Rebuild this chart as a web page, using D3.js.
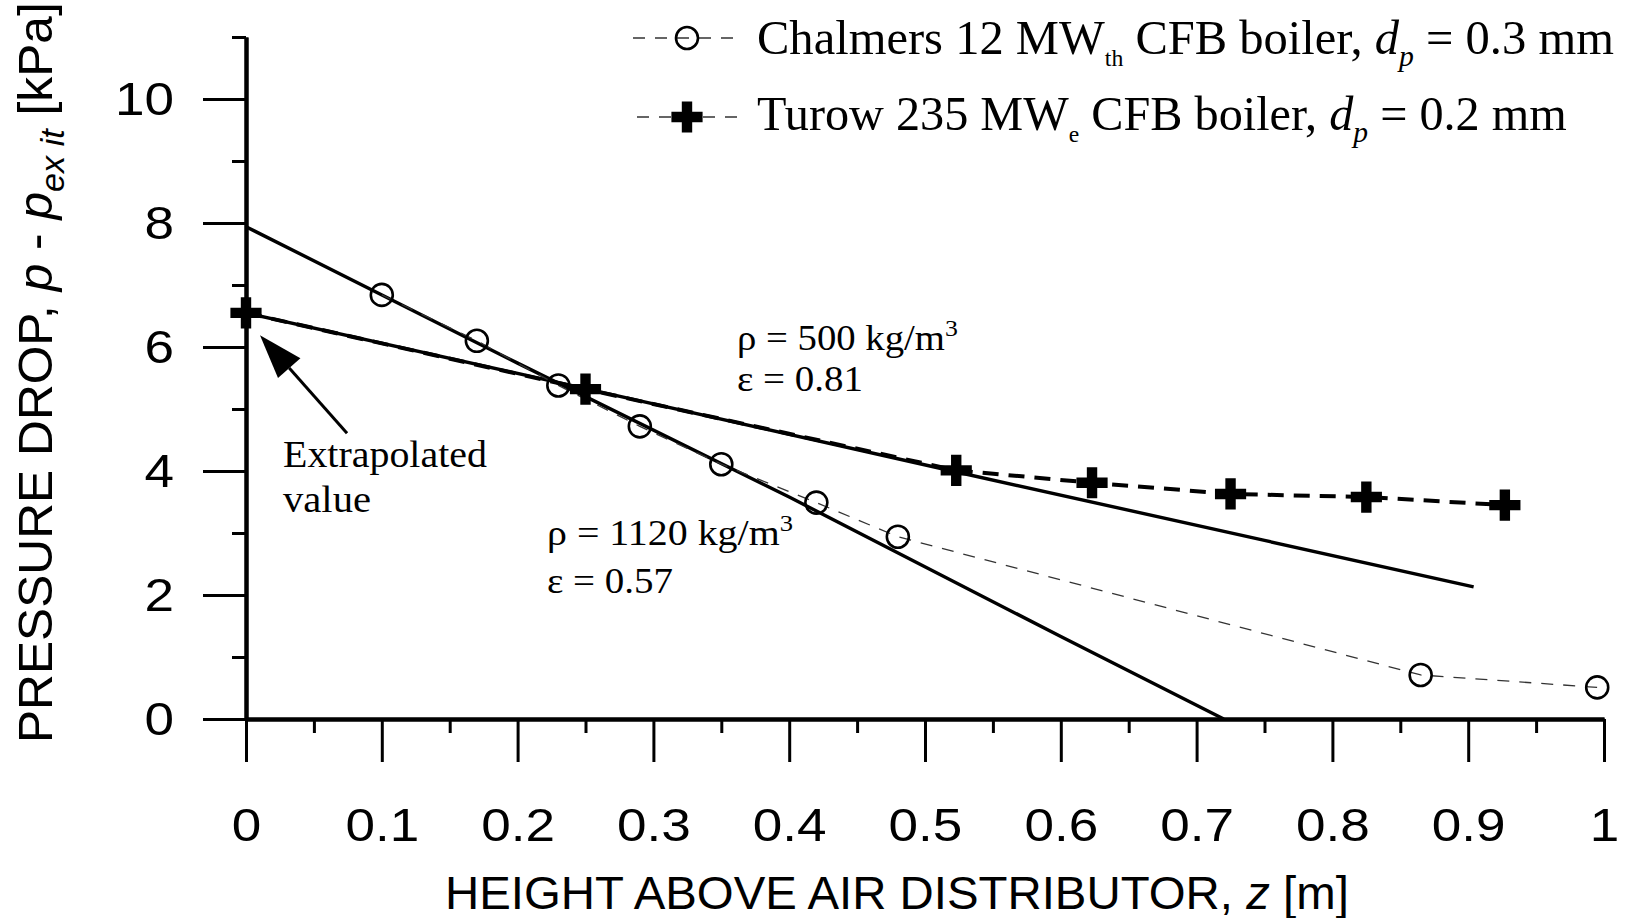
<!DOCTYPE html>
<html>
<head>
<meta charset="utf-8">
<script src="https://cdn.jsdelivr.net/npm/d3@7"></script>
<style>
  html, body { margin: 0; padding: 0; background: #fff; }
  svg { display: block; }
  .num { font-family: 'Liberation Sans', Arial, sans-serif; font-size: 47px; fill: #000; }
  .serif { font-family: 'Liberation Serif', 'Times New Roman', serif; fill: #000; }
</style>
</head>
<body>
<svg id="chart" width="1629" height="918"></svg>
<script>
// Chalmers 12 MWth boiler (open circles)
const chalmersZ = [0.10, 0.17, 0.23, 0.29, 0.35, 0.42, 0.48, 0.865, 0.995]
const chalmersDp = [6.84, 6.10, 5.38, 4.72, 4.11, 3.49, 2.94, 0.71, 0.51]

// Turow 235 MWe boiler (crosses), the z = 0 one is extrapolated
const turowZ = [0, 0.25, 0.523, 0.623, 0.725, 0.825, 0.927]
const turowDp = [6.55, 5.32, 4.01, 3.81, 3.63, 3.58, 3.45]

// model lines
const fit1120Z = [0, 0.2, 0.4, 0.6, 0.72]
const fit1120Dp = [7.94, 5.74, 3.58, 1.33, 0]
const fit500Z = [0, 0.25, 0.52, 0.75, 0.904]
const fit500Dp = [6.55, 5.33, 4.0, 2.88, 2.13]

// ticks
const xTicks = [0, 0.1, 0.2, 0.3, 0.4, 0.5, 0.6, 0.7, 0.8, 0.9, 1]
const xMinor = [0.05, 0.15, 0.25, 0.35, 0.45, 0.55, 0.65, 0.75, 0.85, 0.95]
const yTicks = [0, 2, 4, 6, 8, 10]
const yMinor = [1, 3, 5, 7, 9, 11]

const svg = d3.select('#chart')

const x = d3.scaleLinear().domain([0, 1]).range([246, 1604])
const y = d3.scaleLinear().domain([0, 11]).range([719, 37])

const zip = (a, b) => a.map((v, i) => [v, b[i]])

// ---- axes
const xMinorAxis = d3.axisBottom(x).tickValues(xMinor).tickSize(14).tickSizeOuter(0).tickFormat('')
const xMajorAxis = d3.axisBottom(x).tickValues(xTicks).tickSize(43).tickSizeOuter(0)
	.tickPadding(46).tickFormat(d3.format('~g'))
const yMinorAxis = d3.axisLeft(y).tickValues(yMinor).tickSize(14).tickSizeOuter(0).tickFormat('')
const yMajorAxis = d3.axisLeft(y).tickValues(yTicks).tickSize(43).tickSizeOuter(0)
	.tickPadding(29).tickFormat(d3.format('d'))

const axes = [
	[xMinorAxis, `translate(0,${y(0)})`],
	[xMajorAxis, `translate(0,${y(0)})`],
	[yMinorAxis, `translate(${x(0)},0)`],
	[yMajorAxis, `translate(${x(0)},0)`]
]
axes.forEach(([ax, tr]) => {
	const g = svg.append('g').attr('transform', tr).call(ax)
	g.selectAll('.domain').attr('stroke', '#000').attr('stroke-width', 4)
	g.selectAll('.tick line').attr('stroke', '#000').attr('stroke-width', 3)
	// the numbers in the picture are a bit wider than Arial, stretch them
	g.selectAll('.tick text').attr('class', 'num').attr('font-family', null).attr('font-size', null)
		.each(function() {
			const t = d3.select(this)
			const tx = +t.attr('x') || 0
			t.attr('x', 0).attr('transform', `translate(${tx},0) scale(1.13,1)`)
		})
})

// ---- text helper: squeeze a text run horizontally to the width it has in the picture
function fitText(px, py, width, build, rotate) {
	const g = svg.append('g')
	const t = g.append('text')
	build(t)
	const w = t.node().getComputedTextLength()
	g.attr('transform', `translate(${px},${py})${rotate ? ' rotate(-90)' : ''} scale(${width / w},1)`)
	return g
}

// axis titles
fitText(52, 743, 741, t => {
	t.attr('class', 'num').style('font-size', '48px')
	t.append('tspan').text('PRESSURE DROP, ')
	t.append('tspan').style('font-style', 'italic').text('p')
	t.append('tspan').text(' - ')
	t.append('tspan').style('font-style', 'italic').text('p')
	t.append('tspan').style('font-style', 'italic').style('font-size', '33px').attr('dy', 12).text('ex it')
	t.append('tspan').attr('dy', -12).text('  [kPa]')
}, true)

fitText(445, 909, 904, t => {
	t.attr('class', 'num').style('font-size', '46px')
	t.append('tspan').text('HEIGHT ABOVE AIR DISTRIBUTOR, ')
	t.append('tspan').style('font-style', 'italic').text('z')
	t.append('tspan').text(' [m]')
})

// ---- model lines
const line = d3.line().x(d => x(d[0])).y(d => y(d[1]))

svg.append('path').datum(zip(fit1120Z, fit1120Dp))
	.attr('d', line).attr('fill', 'none').attr('stroke', '#000').attr('stroke-width', 3.4)
svg.append('path').datum(zip(fit500Z, fit500Dp))
	.attr('d', line).attr('fill', 'none').attr('stroke', '#000').attr('stroke-width', 3.4)

// ---- measured series
svg.append('path').datum(zip(chalmersZ, chalmersDp))
	.attr('d', line).attr('fill', 'none').attr('stroke', '#333')
	.attr('stroke-width', 1.3).attr('stroke-dasharray', '12,10')
svg.append('path').datum(zip(turowZ, turowDp))
	.attr('d', line).attr('fill', 'none').attr('stroke', '#000')
	.attr('stroke-width', 4).attr('stroke-dasharray', '16,10')

const cross = d3.symbol(d3.symbolCross, 540)

svg.append('g').selectAll('circle').data(zip(chalmersZ, chalmersDp)).enter()
	.append('circle')
	.attr('cx', d => x(d[0])).attr('cy', d => y(d[1])).attr('r', 11)
	.attr('fill', 'none').attr('stroke', '#000').attr('stroke-width', 2.6)

svg.append('g').selectAll('path').data(zip(turowZ, turowDp)).enter()
	.append('path')
	.attr('d', cross)
	.attr('transform', d => `translate(${x(d[0])},${y(d[1])})`)
	.attr('fill', '#000')

// ---- annotations
// arrow pointing at the extrapolated value (data units)
const arrowTail = [0.0744, 4.61]
const arrowTip = [0.0103, 6.19]
{
	const x0 = x(arrowTail[0]), y0 = y(arrowTail[1])
	const x1 = x(arrowTip[0]), y1 = y(arrowTip[1])
	const ang = Math.atan2(y1 - y0, x1 - x0)
	const len = 44, half = 15
	const bx = x1 - len * Math.cos(ang), by = y1 - len * Math.sin(ang)
	svg.append('line')
		.attr('x1', x0).attr('y1', y0).attr('x2', bx).attr('y2', by)
		.attr('stroke', '#000').attr('stroke-width', 3)
	svg.append('path')
		.attr('d', `M${x1},${y1}L${bx + half * Math.sin(ang)},${by - half * Math.cos(ang)}` +
			`L${bx - half * Math.sin(ang)},${by + half * Math.cos(ang)}Z`)
		.attr('fill', '#000')
}

fitText(283, 467, 204, t => {
	t.attr('class', 'serif').style('font-size', '38px').text('Extrapolated')
})
fitText(283, 512, 88, t => {
	t.attr('class', 'serif').style('font-size', '38px').text('value')
})

function rhoLabel(px, py, width, rest) {
	fitText(px, py, width, t => {
		t.attr('class', 'serif').style('font-size', '36px')
		t.append('tspan').text(rest)
		t.append('tspan').style('font-size', '24px').attr('dy', -14).text('3')
	})
}
rhoLabel(737, 350, 221, 'ρ = 500 kg/m')
fitText(737, 391, 126, t => {
	t.attr('class', 'serif').style('font-size', '36px').text('ε = 0.81')
})
rhoLabel(547, 545, 246, 'ρ = 1120 kg/m')
fitText(547, 593, 126, t => {
	t.attr('class', 'serif').style('font-size', '36px').text('ε = 0.57')
})

// ---- legend
const legend = svg.append('g')
legend.append('line').attr('x1', 633).attr('x2', 737).attr('y1', 38).attr('y2', 38)
	.attr('stroke', '#333').attr('stroke-width', 1.3).attr('stroke-dasharray', '12,10')
legend.append('circle').attr('cx', 687).attr('cy', 38).attr('r', 11)
	.attr('fill', 'none').attr('stroke', '#000').attr('stroke-width', 2.6)
legend.append('line').attr('x1', 637).attr('x2', 740).attr('y1', 117).attr('y2', 117)
	.attr('stroke', '#333').attr('stroke-width', 1.3).attr('stroke-dasharray', '12,10')
legend.append('path').attr('d', cross).attr('transform', 'translate(687,117)').attr('fill', '#000')

function legendText(py, width, first, sub, rest, val) {
	fitText(757, py, width, t => {
		t.attr('class', 'serif').style('font-size', '49px')
		t.append('tspan').text(first)
		t.append('tspan').style('font-size', '24px').attr('dy', 12).text(sub)
		t.append('tspan').attr('dy', -12).text(rest)
		t.append('tspan').style('font-style', 'italic').text('d')
		t.append('tspan').style('font-style', 'italic').style('font-size', '30px').attr('dy', 12).text('p')
		t.append('tspan').attr('dy', -12).text(val)
	})
}
legendText(54, 857, 'Chalmers 12 MW', 'th', ' CFB  boiler, ', ' = 0.3 mm')
legendText(130, 810, 'Turow 235 MW', 'e', ' CFB boiler, ', ' = 0.2 mm')
</script>
</body>
</html>
